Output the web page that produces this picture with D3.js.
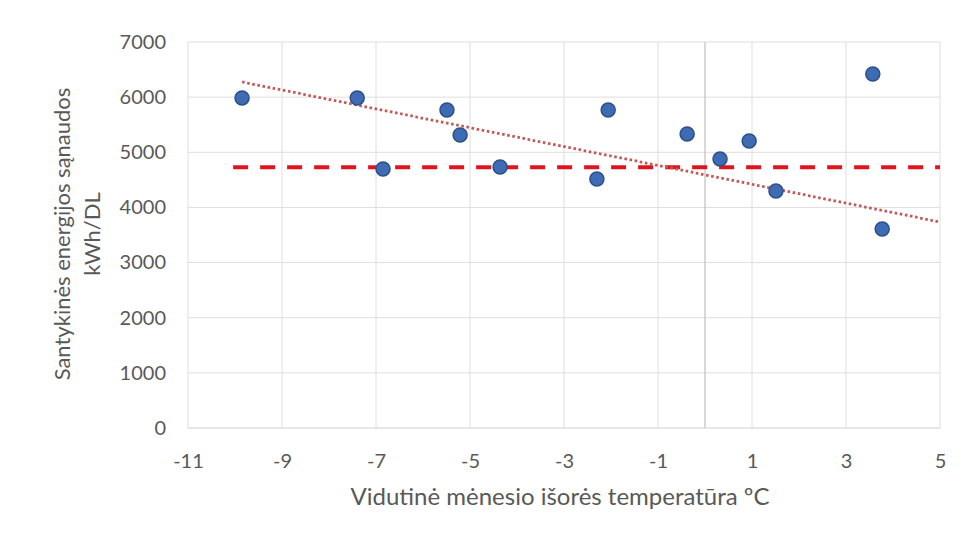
<!DOCTYPE html>
<html>
<head>
<meta charset="utf-8">
<script src="https://cdn.jsdelivr.net/npm/d3@7"></script>
<style>
  html, body { margin: 0; padding: 0; background: #fff; }
  svg { display: block; font-family: Lato, "Open Sans", sans-serif; }
</style>
</head>
<body>
<svg id="chart" width="961" height="540"></svg>
<script>
// ---- data ----
const temps  = [-9.85, -7.40, -6.85, -5.49, -5.21, -4.36, -2.30, -2.06, -0.38, 0.32, 0.94, 1.51, 3.57, 3.77];
const energy = [5985, 5985, 4697, 5767, 5314, 4733, 4516, 5767, 5332, 4878, 5205, 4298, 6420, 3609];
const refX   = [-10.04, 5];
const refY   = [4730, 4730];
const trendX = [-9.85, 5];
const trendY = [6275, 3736];
const xTicks = [-11, -9, -7, -5, -3, -1, 1, 3, 5];
const yTicks = [0, 1000, 2000, 3000, 4000, 5000, 6000, 7000];
const xTitle = "Vidutinė mėnesio išorės temperatūra ºC";
const yTitle = ["Santykinės energijos sąnaudos", "kWh/DL"];

const svg = d3.select("#chart");
const x = d3.scaleLinear().domain([-11, 5]).range([188, 940]);
const y = d3.scaleLinear().domain([0, 7000]).range([428, 42]);

const txt = "#595959";

// gridlines
const grid = svg.append("g");
grid.selectAll("line.v").data(xTicks).join("line")
  .attr("x1", d => x(d)).attr("x2", d => x(d))
  .attr("y1", y(7000)).attr("y2", y(0))
  .attr("stroke", "#dedede").attr("stroke-width", 1);
grid.selectAll("line.h").data(yTicks).join("line")
  .attr("x1", x(-11)).attr("x2", x(5))
  .attr("y1", d => y(d)).attr("y2", d => y(d))
  .attr("stroke", d => d === 0 ? "#cfcfcf" : "#dedede").attr("stroke-width", 1);
// vertical axis line at 0
grid.append("line")
  .attr("x1", x(0)).attr("x2", x(0)).attr("y1", y(7000)).attr("y2", y(0))
  .attr("stroke", "#c4c4c4").attr("stroke-width", 1.3);

// axes (labels only)
const xAxis = d3.axisBottom(x).tickValues(xTicks).tickSize(0).tickPadding(0)
  .tickFormat(d => d < 0 ? "-" + Math.abs(d) : String(d));
svg.append("g").attr("transform", `translate(0,${y(0) + 34})`).call(xAxis)
  .call(g => g.select(".domain").remove())
  .call(g => g.selectAll("text").attr("fill", txt).attr("font-size", 20).attr("font-family", "Lato, sans-serif").attr("dy", "0.32em"));

const yAxis = d3.axisLeft(y).tickValues(yTicks).tickSize(0).tickPadding(0).tickFormat(d3.format("d"));
svg.append("g").attr("transform", `translate(166,0)`).call(yAxis)
  .call(g => g.select(".domain").remove())
  .call(g => g.selectAll("text").attr("fill", txt).attr("font-size", 20).attr("font-family", "Lato, sans-serif"));

// reference dashed line
const line = d3.line().x(d => x(d[0])).y(d => y(d[1]));
svg.append("path")
  .datum(d3.zip(refX, refY))
  .attr("d", line)
  .attr("fill", "none").attr("stroke", "#e0141e").attr("stroke-width", 4)
  .attr("stroke-dasharray", "15,12");

// trend dotted line
svg.append("path")
  .datum(d3.zip(trendX, trendY))
  .attr("d", line)
  .attr("fill", "none").attr("stroke", "#c25a58").attr("stroke-width", 2.8)
  .attr("stroke-dasharray", "2.6,2.6");

// points
svg.append("g").selectAll("circle").data(d3.zip(temps, energy)).join("circle")
  .attr("cx", d => x(d[0])).attr("cy", d => y(d[1])).attr("r", 7)
  .attr("fill", "#3e6bb4").attr("stroke", "#2b4f88").attr("stroke-width", 1.5);

// titles
svg.append("text").attr("x", 560).attr("y", 505).attr("text-anchor", "middle")
  .attr("fill", txt).attr("font-size", 24).text(xTitle);
svg.append("g").attr("transform", "translate(70,234) rotate(-90)")
  .selectAll("text").data(yTitle).join("text")
  .attr("x", 0).attr("y", (d, i) => i * 30).attr("text-anchor", "middle")
  .attr("fill", txt).attr("font-size", 22).text(d => d);
</script>
</body>
</html>
